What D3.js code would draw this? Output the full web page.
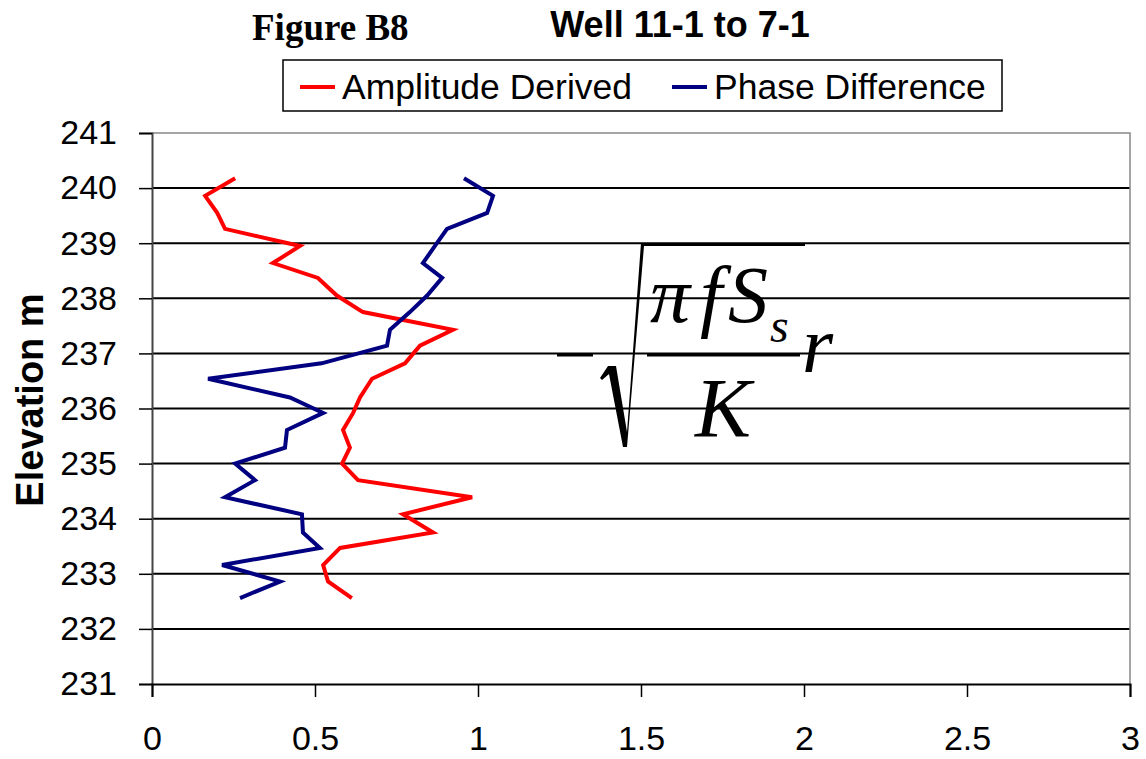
<!DOCTYPE html>
<html>
<head>
<meta charset="utf-8">
<script src="https://cdn.jsdelivr.net/npm/d3@7"></script>
<style>
  html, body { margin: 0; padding: 0; background: #fff; }
  svg { display: block; }
</style>
</head>
<body>
<svg id="chart" width="1146" height="759"></svg>
<script>
// Elevation (m) of each measurement level, top to bottom
const elevations = [240.18, 239.86, 239.55, 239.26, 238.95, 238.64, 238.37, 238.05,
  237.75, 237.43, 237.14, 236.82, 236.54, 236.20, 235.92, 235.61, 235.29, 235.00,
  234.70, 234.39, 234.08, 233.75, 233.47, 233.16, 232.86, 232.56];

// Values from the amplitude ratio method
const amplitudeDerived = [0.255, 0.163, 0.20, 0.224, 0.454, 0.371, 0.509, 0.567,
  0.647, 0.923, 0.822, 0.776, 0.675, 0.638, 0.617, 0.586, 0.607, 0.583,
  0.632, 0.982, 0.770, 0.862, 0.577, 0.525, 0.540, 0.613];

// Values from the phase lag method
const phaseDifference = [0.957, 1.046, 1.028, 0.905, 0.868, 0.831, 0.890, 0.844,
  0.791, 0.730, 0.721, 0.52, 0.172, 0.423, 0.525, 0.414, 0.408, 0.255,
  0.316, 0.224, 0.460, 0.463, 0.515, 0.215, 0.393, 0.270];

const seriesNames = ["Amplitude Derived", "Phase Difference"];
const xTickValues = [0, 0.5, 1, 1.5, 2, 2.5, 3];
const xTickLabels = ["0", "0.5", "1", "1.5", "2", "2.5", "3"];
const yTickValues = [231, 232, 233, 234, 235, 236, 237, 238, 239, 240, 241];

const svg = d3.select("#chart");
const plot = { left: 152, right: 1130, top: 133, bottom: 684 };

const x = d3.scaleLinear().domain([0, 3]).range([plot.left, plot.right]);
const y = d3.scaleLinear().domain([231, 241]).range([plot.bottom, plot.top]);

// Horizontal gridlines
svg.append("g")
  .selectAll("line")
  .data(yTickValues.filter(v => v > 231 && v < 241))
  .join("line")
  .attr("x1", plot.left).attr("x2", plot.right)
  .attr("y1", d => y(d)).attr("y2", d => y(d))
  .attr("stroke", "#000").attr("stroke-width", 2);

// Plot area frame (top and right)
svg.append("path")
  .attr("d", `M${plot.left},${y(241)}H${plot.right}V${plot.bottom}`)
  .attr("fill", "none").attr("stroke", "#888").attr("stroke-width", 1.5);

// Axes
const yAxis = d3.axisLeft(y).tickValues(yTickValues).tickSize(13).tickPadding(22)
  .tickFormat(d3.format("d"));
const gy = svg.append("g").attr("transform", `translate(${plot.left},0)`).call(yAxis);
gy.select(".domain").attr("stroke", "#444").attr("stroke-width", 2);
gy.selectAll(".tick line").attr("stroke", "#000").attr("stroke-width", 1.5);
gy.selectAll(".tick text")
  .attr("font-family", "Arial, 'Liberation Sans', sans-serif")
  .attr("font-size", 34).attr("fill", "#000");

const xAxis = d3.axisBottom(x).tickValues(xTickValues).tickSize(13)
  .tickFormat((d, i) => xTickLabels[i]);
const gx = svg.append("g").attr("transform", `translate(0,${plot.bottom})`).call(xAxis);
gx.select(".domain").attr("stroke", "#000").attr("stroke-width", 2);
gx.selectAll(".tick line").attr("stroke", "#000").attr("stroke-width", 1.5);
gx.selectAll(".tick text")
  .attr("y", 66).attr("dy", 0)
  .attr("font-family", "Arial, 'Liberation Sans', sans-serif")
  .attr("font-size", 34).attr("fill", "#000");

// Y axis title
svg.append("text")
  .attr("transform", `translate(43,400) rotate(-90)`)
  .attr("text-anchor", "middle")
  .attr("font-family", "Arial, 'Liberation Sans', sans-serif")
  .attr("font-weight", "bold").attr("font-size", 38)
  .text("Elevation m");

// Data lines
const series = [
  { name: seriesNames[0], values: amplitudeDerived, color: "#ff0000" },
  { name: seriesNames[1], values: phaseDifference, color: "#000080" }
];
const line = d3.line().x(d => x(d[0])).y(d => y(d[1]));
svg.append("g")
  .selectAll("path")
  .data(series)
  .join("path")
  .attr("d", s => line(s.values.map((v, i) => [v, elevations[i]])))
  .attr("fill", "none")
  .attr("stroke", s => s.color)
  .attr("stroke-width", 4)
  .attr("stroke-linejoin", "miter");

// Titles
svg.append("text")
  .attr("x", 252).attr("y", 40)
  .attr("font-family", "'Times New Roman', 'Liberation Serif', serif")
  .attr("font-weight", "bold").attr("font-size", 37)
  .text("Figure B8");
svg.append("text")
  .attr("x", 680).attr("y", 37)
  .attr("text-anchor", "middle")
  .attr("font-family", "Arial, 'Liberation Sans', sans-serif")
  .attr("font-weight", "bold").attr("font-size", 36)
  .text("Well 11-1 to 7-1");

// Legend
const legend = svg.append("g");
legend.append("rect")
  .attr("x", 283).attr("y", 60).attr("width", 719).attr("height", 51)
  .attr("fill", "#fff").attr("stroke", "#000").attr("stroke-width", 1.5);
const legendItems = [
  { s: series[0], x: 300 },
  { s: series[1], x: 672 }
];
legendItems.forEach(item => {
  legend.append("line")
    .attr("x1", item.x).attr("x2", item.x + 35)
    .attr("y1", 87).attr("y2", 87)
    .attr("stroke", item.s.color).attr("stroke-width", 4);
  legend.append("text")
    .attr("x", item.x + 42).attr("y", 99)
    .attr("font-family", "Arial, 'Liberation Sans', sans-serif")
    .attr("font-size", 35.5)
    .text(item.s.name);
});

// Velocity formula annotation: -sqrt(pi f S_s / K) r
const eq = svg.append("g")
  .attr("font-family", "'Times New Roman', 'Liberation Serif', serif")
  .attr("font-style", "italic");
eq.append("line").attr("x1", 557).attr("x2", 593).attr("y1", 355).attr("y2", 355)
  .attr("stroke", "#000").attr("stroke-width", 3);
eq.append("path")
  .attr("d", "M600,378 L608,366 L616,366 L627,432 L641,243 L805,243 L805,246 L644,246 L627,447 L623,447 L609,374 L602,380 Z")
  .attr("fill", "#000");
eq.append("line").attr("x1", 647).attr("x2", 800).attr("y1", 355).attr("y2", 355)
  .attr("stroke", "#000").attr("stroke-width", 3);
eq.append("text").attr("x", 650).attr("y", 322).attr("font-size", 80).text("π");
eq.append("text").attr("x", 700).attr("y", 322).attr("font-size", 80).text("f");
eq.append("text").attr("x", 728).attr("y", 322).attr("font-size", 80).text("S");
eq.append("text").attr("x", 770).attr("y", 342).attr("font-size", 48).text("s");
eq.append("text").attr("x", 695).attr("y", 437).attr("font-size", 84).text("K");
eq.append("text").attr("x", 802).attr("y", 372).attr("font-size", 80).text("r");
</script>
</body>
</html>
